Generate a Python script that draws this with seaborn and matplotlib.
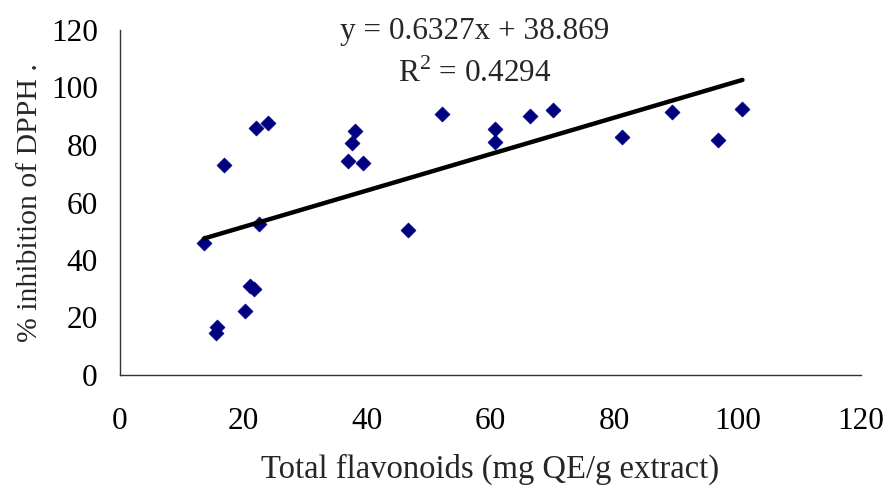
import numpy as np
import pandas as pd
import matplotlib
matplotlib.use("Agg")
import matplotlib.pyplot as plt
import seaborn as sns


# ── data ─────────────────────────────────────────────────────────────────────

flavonoids = [13.6, 16.9, 22.1, 24.0, 22.5, 21.05, 21.7, 20.2, 15.65, 15.5,
              38.0, 37.6, 37.0, 39.4, 46.7, 52.2, 60.7, 60.8, 66.4, 70.2,
              81.3, 89.4, 96.9, 100.8]
inhibition = [45.9, 73.1, 86.0, 87.7, 52.6, 30.8, 30.0, 22.3, 16.8, 14.5,
              85.0, 80.6, 74.3, 73.7, 50.5, 90.8, 85.7, 80.9, 90.2, 92.1,
              82.9, 91.5, 81.6, 92.4]

slope = 0.6327
intercept = 38.869
r_squared = 0.4294

x_ticks = [0, 20, 40, 60, 80, 100, 120]
y_ticks = [0, 20, 40, 60, 80, 100, 120]


# ── plot ─────────────────────────────────────────────────────────────────────

sns.set_theme(style="white")
plt.rcParams["font.family"] = ["Liberation Serif", "DejaVu Serif"]
plt.rcParams["mathtext.fontset"] = "custom"
plt.rcParams["mathtext.rm"] = "Liberation Serif"

df = pd.DataFrame({"x": flavonoids, "y": inhibition})

fig, ax = plt.subplots(figsize=(8.9, 4.93), dpi=100)
fig.subplots_adjust(left=120 / 890, right=861 / 890,
                    top=1 - 30 / 493, bottom=1 - 375 / 493)

sns.scatterplot(data=df, x="x", y="y", marker="D", s=58,
                color="#000080", edgecolor="#000080", linewidth=0.5,
                ax=ax, zorder=3, clip_on=False)

x_fit = np.array([min(flavonoids), max(flavonoids)])
sns.lineplot(x=x_fit, y=slope * x_fit + intercept, color="black",
             linewidth=3.2, ax=ax, zorder=4)

ax.set_xlim(0, 120)
ax.set_ylim(0, 120)
ax.set_xticks(x_ticks)
ax.set_yticks(y_ticks)
ax.tick_params(direction="in", length=6, width=0.9, colors="black",
               labelsize=22.5)
ax.tick_params(axis="x", pad=23)
ax.tick_params(axis="y", pad=16)

for side in ["right", "top"]:
    ax.spines[side].set_visible(False)
for side in ["left", "bottom"]:
    ax.spines[side].set_visible(True)
    ax.spines[side].set_color("#333333")
    ax.spines[side].set_linewidth(1.0)

ax.set_xlabel("Total flavonoids (mg QE/g extract)", fontsize=23.5, labelpad=13)
ax.set_ylabel("% inhibition of DPPH .", fontsize=21.4, labelpad=6)

ax.text(0.479, 0.996, f"y = {slope}x + {intercept}", transform=ax.transAxes,
        ha="center", va="center", fontsize=22.5)
ax.text(0.479, 0.874, f"R$^2$ = {r_squared}", transform=ax.transAxes,
        ha="center", va="center", fontsize=22.5)

fig.savefig("out.png", dpi=100)
plt.close(fig)
